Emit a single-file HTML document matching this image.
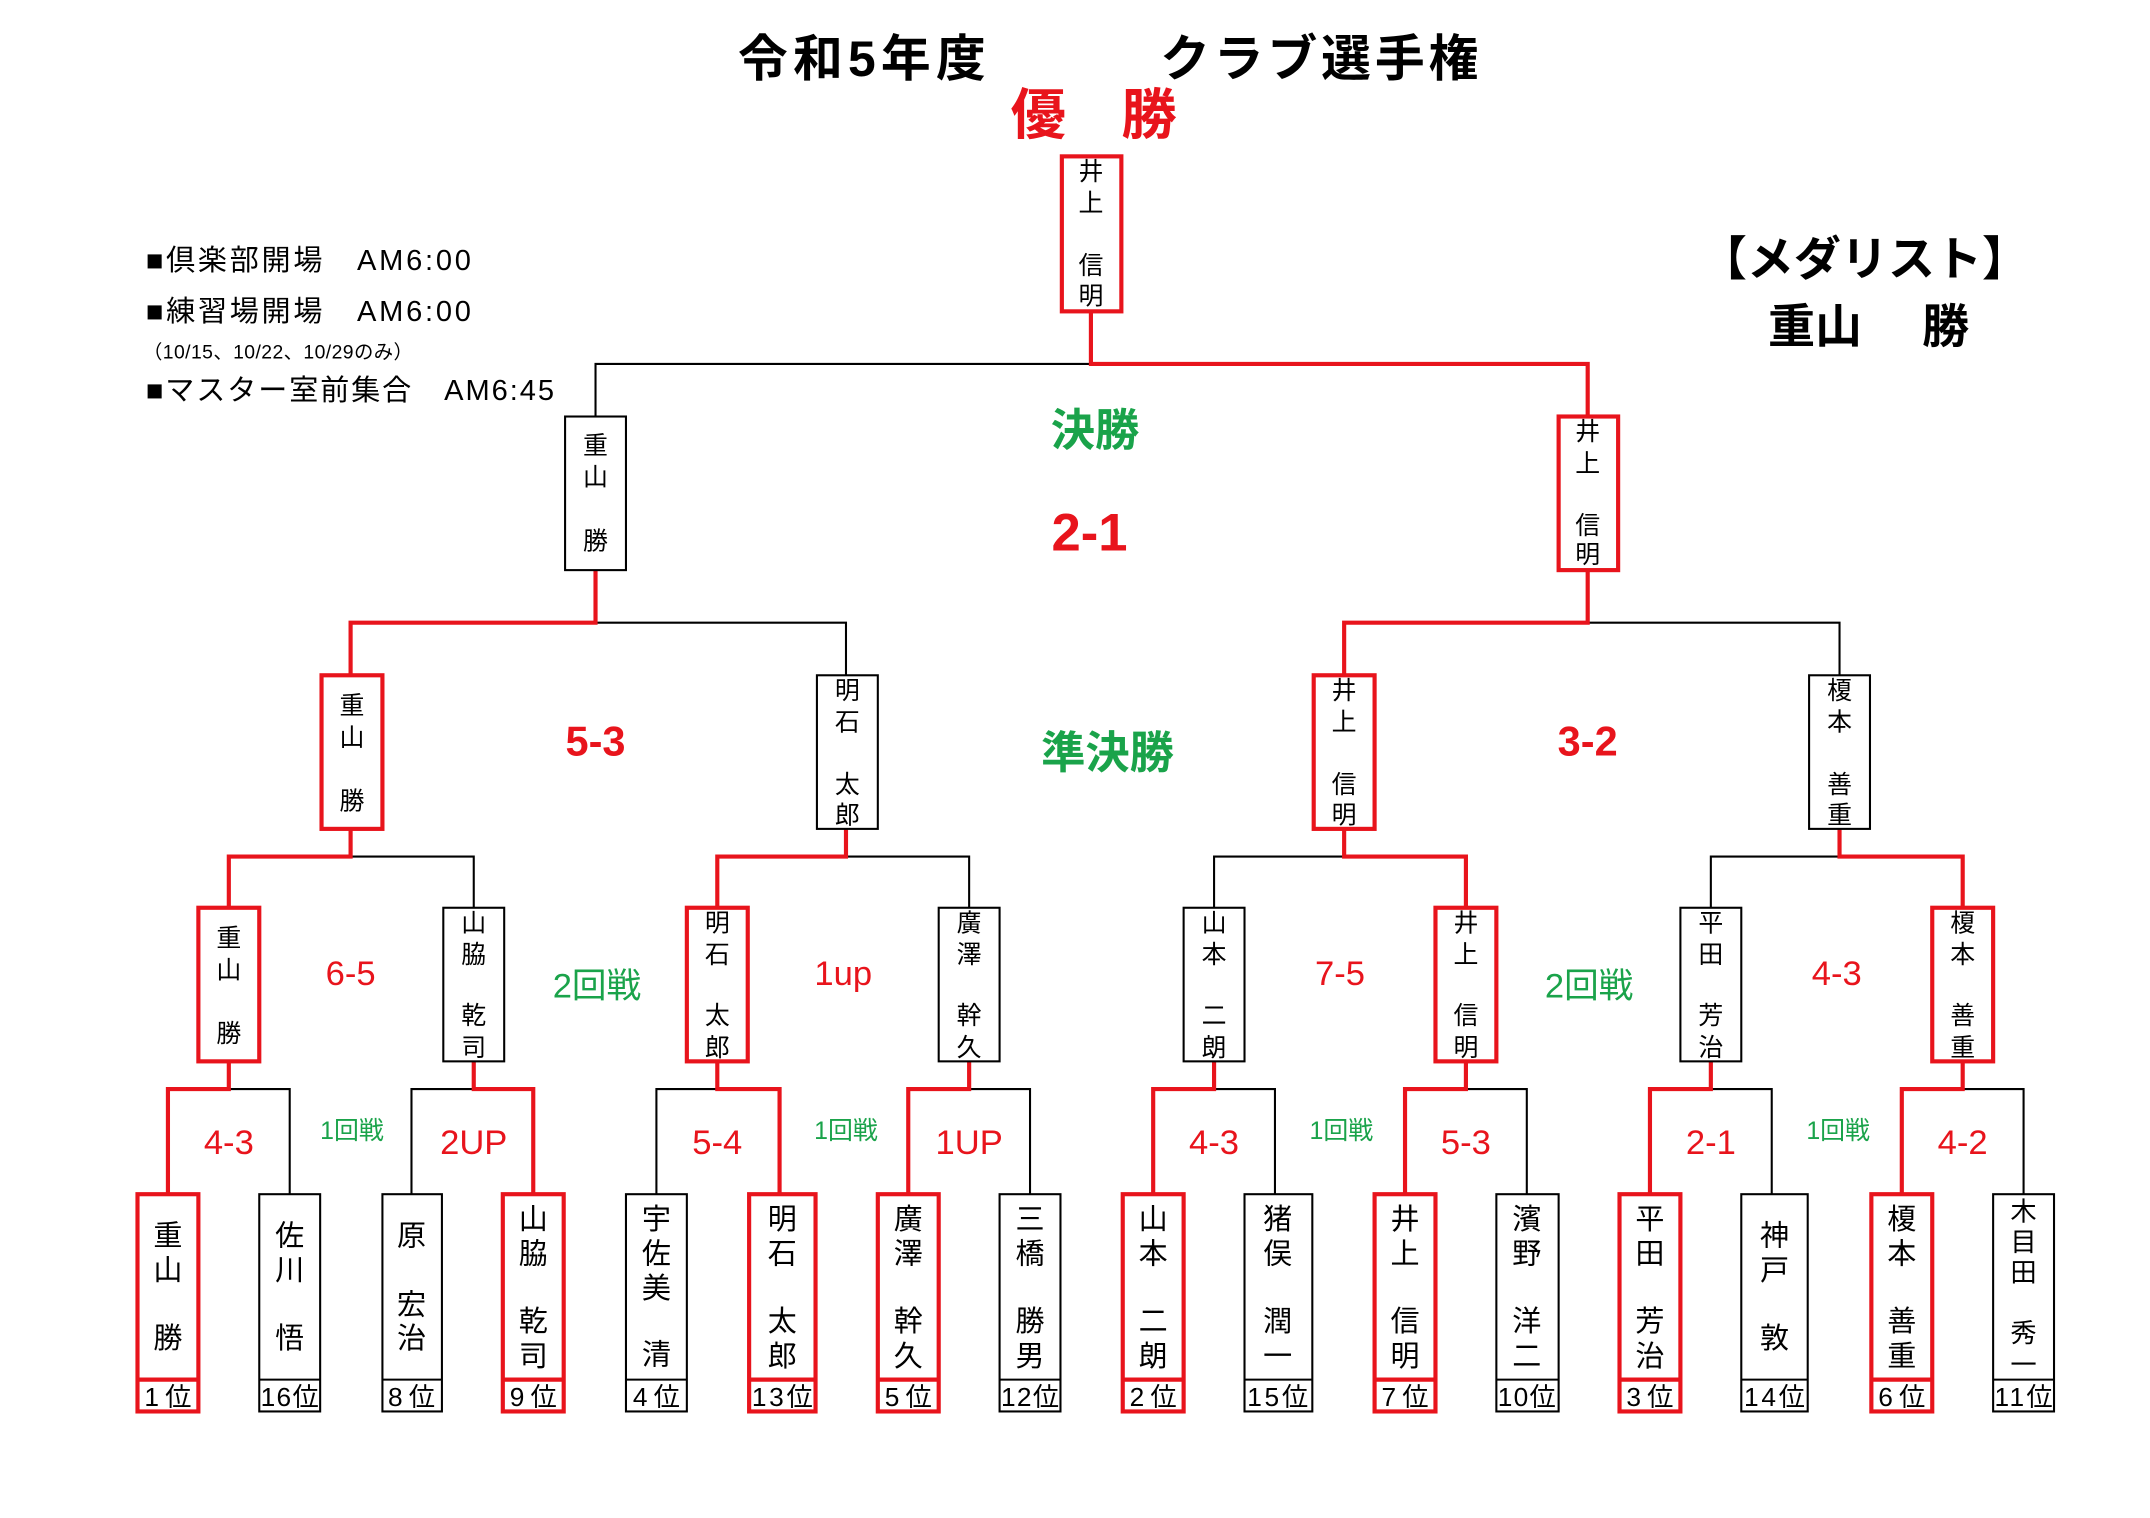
<!DOCTYPE html>
<html><head><meta charset="utf-8"><style>
html,body{margin:0;padding:0;background:#fff;width:2150px;height:1518px;overflow:hidden}
svg{display:block}
text{font-family:"Liberation Sans","Noto Sans CJK JP",sans-serif}
.n{font-size:21px;text-anchor:middle;fill:#000}
.m{font-size:18px;text-anchor:middle;fill:#000}
.rk{font-size:19px;text-anchor:middle;fill:#000}
.sc{font-size:25px;fill:#e8141c;text-anchor:middle}
.g1{font-size:18px;fill:#1aa34a;text-anchor:middle}
.r{stroke:#e8141c;stroke-width:3;fill:none}
.b{stroke:#000;stroke-width:1.5;fill:none}
.rb{stroke:#e8141c;stroke-width:3;fill:#fff}
.bb{stroke:#000;stroke-width:1.5;fill:#fff}
</style></head><body>
<svg width="2150" height="1518" viewBox="0 0 1553 1097" xmlns="http://www.w3.org/2000/svg">
<!-- title -->
<text x="533" y="55" font-size="36" font-weight="bold" textLength="179">令和5年度</text>
<text x="838" y="55" font-size="36" font-weight="bold" textLength="230">クラブ選手権</text>
<text x="790" y="97" font-size="40" font-weight="bold" fill="#e8141c" text-anchor="middle">優　勝</text>
<!-- notes -->
<text x="105" y="195" font-size="21" textLength="235">■倶楽部開場　AM6:00</text>
<text x="105" y="232" font-size="21" textLength="235">■練習場開場　AM6:00</text>
<text x="103" y="259" font-size="14" textLength="195">（10/15、10/22、10/29のみ）</text>
<text x="105" y="289" font-size="21" textLength="295">■マスター室前集合　AM6:45</text>
<text x="1347" y="199" font-size="34" font-weight="bold" text-anchor="middle">【メダリスト】</text>
<text x="1350" y="248" font-size="34" font-weight="bold" text-anchor="middle">重山　 勝</text>
<!-- labels -->
<text x="791" y="322" font-size="32" font-weight="bold" fill="#1aa34a" text-anchor="middle">決勝</text>
<text x="787" y="398" font-size="38" font-weight="bold" fill="#e8141c" text-anchor="middle">2-1</text>
<text x="430" y="546" font-size="30" font-weight="bold" fill="#e8141c" text-anchor="middle">5-3</text>
<text x="800" y="555" font-size="32" font-weight="bold" fill="#1aa34a" text-anchor="middle">準決勝</text>
<text x="1147" y="546" font-size="30" font-weight="bold" fill="#e8141c" text-anchor="middle">3-2</text>
<text x="253" y="712" class="sc">6-5</text>
<text x="609" y="712" class="sc">1up</text>
<text x="968" y="712" class="sc">7-5</text>
<text x="1327" y="712" class="sc">4-3</text>
<text x="431" y="721" font-size="25" fill="#1aa34a" text-anchor="middle">2回戦</text>
<text x="1148" y="721" font-size="25" fill="#1aa34a" text-anchor="middle">2回戦</text>
<text x="165" y="834" class="sc">4-3</text>
<text x="342" y="834" class="sc">2UP</text>
<text x="518" y="834" class="sc">5-4</text>
<text x="700" y="834" class="sc">1UP</text>
<text x="877" y="834" class="sc">4-3</text>
<text x="1059" y="834" class="sc">5-3</text>
<text x="1236" y="834" class="sc">2-1</text>
<text x="1418" y="834" class="sc">4-2</text>
<text x="254" y="823" class="g1">1回戦</text>
<text x="611" y="823" class="g1">1回戦</text>
<text x="969" y="823" class="g1">1回戦</text>
<text x="1328" y="823" class="g1">1回戦</text>
<!-- lines black -->
<path class="b" d="M430 301V263H788 M611 488V450H430 M1329 488V450H1147 M342 656V619H253 M700 656V619H611 M877 656V619H971 M1236 656V619H1329
M209 863V787H165 M297 863V787H342 M474 863V787H518 M744 863V787H700 M921 863V787H877 M1103 863V787H1059 M1280 863V787H1236 M1462 863V787H1418"/>
<!-- lines red -->
<path class="r" d="M788 225V263H1147V301 M430 412V450H253V488 M1147 412V450H971V488 M253 599V619H165V656 M611 599V619H518V656 M971 599V619H1059V656 M1329 599V619H1418V656
M165 767V787H121V863 M342 767V787H385V863 M518 767V787H563V863 M700 767V787H656V863 M877 767V787H833V863 M1059 767V787H1015V863 M1236 767V787H1192V863 M1418 767V787H1374V863"/>
<!-- champion -->
<rect class="rb" x="767" y="113" width="43" height="112"/>
<g class="m"><text x="788" y="130">井</text><text x="788" y="153">上</text><text x="788" y="198">信</text><text x="788" y="220">明</text></g>
<!-- final -->
<rect class="bb" x="408" y="301" width="44" height="111"/>
<g class="m"><text x="430" y="328">重</text><text x="430" y="351">山</text><text x="430" y="397">勝</text></g>
<rect class="rb" x="1126" y="301" width="43" height="111"/>
<g class="m"><text x="1147" y="318">井</text><text x="1147" y="341">上</text><text x="1147" y="386">信</text><text x="1147" y="407">明</text></g>
<!-- semis -->
<rect class="rb" x="232" y="488" width="44" height="111"/>
<g class="m"><text x="254" y="516">重</text><text x="254" y="539">山</text><text x="254" y="585">勝</text></g>
<rect class="bb" x="590" y="488" width="44" height="111"/>
<g class="m"><text x="612" y="505">明</text><text x="612" y="528">石</text><text x="612" y="573">太</text><text x="612" y="595">郎</text></g>
<rect class="rb" x="949" y="488" width="44" height="111"/>
<g class="m"><text x="971" y="505">井</text><text x="971" y="528">上</text><text x="971" y="573">信</text><text x="971" y="595">明</text></g>
<rect class="bb" x="1307" y="488" width="44" height="111"/>
<g class="m"><text x="1329" y="505">榎</text><text x="1329" y="528">本</text><text x="1329" y="573">善</text><text x="1329" y="595">重</text></g>
<!-- round 2 -->
<rect class="rb" x="143" y="656" width="44" height="111"/>
<g class="m"><text x="165" y="684">重</text><text x="165" y="707">山</text><text x="165" y="753">勝</text></g>
<rect class="bb" x="320" y="656" width="44" height="111"/>
<g class="m"><text x="342" y="673">山</text><text x="342" y="696">脇</text><text x="342" y="740">乾</text><text x="342" y="763">司</text></g>
<rect class="rb" x="496" y="656" width="44" height="111"/>
<g class="m"><text x="518" y="673">明</text><text x="518" y="696">石</text><text x="518" y="740">太</text><text x="518" y="763">郎</text></g>
<rect class="bb" x="678" y="656" width="44" height="111"/>
<g class="m"><text x="700" y="673">廣</text><text x="700" y="696">澤</text><text x="700" y="740">幹</text><text x="700" y="763">久</text></g>
<rect class="bb" x="855" y="656" width="44" height="111"/>
<g class="m"><text x="877" y="673">山</text><text x="877" y="696">本</text><text x="877" y="740">二</text><text x="877" y="763">朗</text></g>
<rect class="rb" x="1037" y="656" width="44" height="111"/>
<g class="m"><text x="1059" y="673">井</text><text x="1059" y="696">上</text><text x="1059" y="740">信</text><text x="1059" y="763">明</text></g>
<rect class="bb" x="1214" y="656" width="44" height="111"/>
<g class="m"><text x="1236" y="673">平</text><text x="1236" y="696">田</text><text x="1236" y="740">芳</text><text x="1236" y="763">治</text></g>
<rect class="rb" x="1396" y="656" width="44" height="111"/>
<g class="m"><text x="1418" y="673">榎</text><text x="1418" y="696">本</text><text x="1418" y="740">善</text><text x="1418" y="763">重</text></g>
<!-- leaves -->
<g>
<rect class="rb" x="99" y="863" width="44" height="157"/><path class="r" d="M99 997H143"/>
<g class="n"><text x="121" y="900">重</text><text x="121" y="925">山</text><text x="121" y="974">勝</text></g>
<text class="rk" x="121" y="1016" textLength="34">1位</text>

<rect class="bb" x="187" y="863" width="44" height="157"/><path class="b" d="M187 997H231"/>
<g class="n"><text x="209" y="900">佐</text><text x="209" y="925">川</text><text x="209" y="974">悟</text></g>
<text class="rk" x="209" y="1016" textLength="42">16位</text>

<rect class="bb" x="276" y="863" width="43" height="157"/><path class="b" d="M276 997H319"/>
<g class="n"><text x="297" y="900">原</text><text x="297" y="950">宏</text><text x="297" y="974">治</text></g>
<text class="rk" x="297" y="1016" textLength="34">8位</text>

<rect class="rb" x="363" y="863" width="44" height="157"/><path class="r" d="M363 997H407"/>
<g class="n"><text x="385" y="888">山</text><text x="385" y="913">脇</text><text x="385" y="962">乾</text><text x="385" y="987">司</text></g>
<text class="rk" x="385" y="1016" textLength="34">9位</text>

<rect class="bb" x="452" y="863" width="44" height="157"/><path class="b" d="M452 997H496"/>
<g class="n"><text x="474" y="888">宇</text><text x="474" y="913">佐</text><text x="474" y="938">美</text><text x="474" y="986">清</text></g>
<text class="rk" x="474" y="1016" textLength="34">4位</text>

<rect class="rb" x="541" y="863" width="48" height="157"/><path class="r" d="M541 997H589"/>
<g class="n"><text x="565" y="888">明</text><text x="565" y="913">石</text><text x="565" y="962">太</text><text x="565" y="987">郎</text></g>
<text class="rk" x="565" y="1016" textLength="44">13位</text>

<rect class="rb" x="634" y="863" width="44" height="157"/><path class="r" d="M634 997H678"/>
<g class="n"><text x="656" y="888">廣</text><text x="656" y="913">澤</text><text x="656" y="962">幹</text><text x="656" y="987">久</text></g>
<text class="rk" x="656" y="1016" textLength="34">5位</text>

<rect class="bb" x="722" y="863" width="44" height="157"/><path class="b" d="M722 997H766"/>
<g class="n"><text x="744" y="888">三</text><text x="744" y="913">橋</text><text x="744" y="962">勝</text><text x="744" y="987">男</text></g>
<text class="rk" x="744" y="1016" textLength="42">12位</text>

<rect class="rb" x="811" y="863" width="44" height="157"/><path class="r" d="M811 997H855"/>
<g class="n"><text x="833" y="888">山</text><text x="833" y="913">本</text><text x="833" y="962">二</text><text x="833" y="987">朗</text></g>
<text class="rk" x="833" y="1016" textLength="34">2位</text>

<rect class="bb" x="899" y="863" width="49" height="157"/><path class="b" d="M899 997H948"/>
<g class="n"><text x="923" y="888">猪</text><text x="923" y="913">俣</text><text x="923" y="962">潤</text><text x="923" y="987">一</text></g>
<text class="rk" x="923" y="1016" textLength="44">15位</text>

<rect class="rb" x="993" y="863" width="44" height="157"/><path class="r" d="M993 997H1037"/>
<g class="n"><text x="1015" y="888">井</text><text x="1015" y="913">上</text><text x="1015" y="962">信</text><text x="1015" y="987">明</text></g>
<text class="rk" x="1015" y="1016" textLength="34">7位</text>

<rect class="bb" x="1081" y="863" width="45" height="157"/><path class="b" d="M1081 997H1126"/>
<g class="n"><text x="1103" y="888">濱</text><text x="1103" y="913">野</text><text x="1103" y="962">洋</text><text x="1103" y="987">二</text></g>
<text class="rk" x="1103" y="1016" textLength="42">10位</text>

<rect class="rb" x="1170" y="863" width="44" height="157"/><path class="r" d="M1170 997H1214"/>
<g class="n"><text x="1192" y="888">平</text><text x="1192" y="913">田</text><text x="1192" y="962">芳</text><text x="1192" y="987">治</text></g>
<text class="rk" x="1192" y="1016" textLength="34">3位</text>

<rect class="bb" x="1258" y="863" width="48" height="157"/><path class="b" d="M1258 997H1306"/>
<g class="n"><text x="1282" y="900">神</text><text x="1282" y="925">戸</text><text x="1282" y="974">敦</text></g>
<text class="rk" x="1282" y="1016" textLength="44">14位</text>

<rect class="rb" x="1352" y="863" width="44" height="157"/><path class="r" d="M1352 997H1396"/>
<g class="n"><text x="1374" y="888">榎</text><text x="1374" y="913">本</text><text x="1374" y="962">善</text><text x="1374" y="987">重</text></g>
<text class="rk" x="1374" y="1016" textLength="34">6位</text>

<rect class="bb" x="1440" y="863" width="44" height="157"/><path class="b" d="M1440 997H1484"/>
<g font-size="19" text-anchor="middle"><text x="1462" y="882">木</text><text x="1462" y="904">目</text><text x="1462" y="926">田</text><text x="1462" y="970">秀</text><text x="1462" y="993">一</text></g>
<text class="rk" x="1462" y="1016" textLength="42">11位</text>
</g>
</svg>
</body></html>
